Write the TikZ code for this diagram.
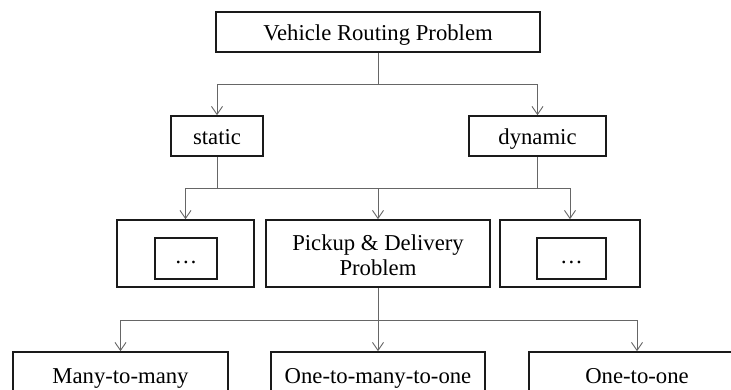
\documentclass[tikz,border=0pt]{standalone}
\usepackage{fontspec}
\setmainfont{Liberation Serif}
\usetikzlibrary{arrows.meta}
\definecolor{linkgray}{HTML}{666666}
\definecolor{boxline}{HTML}{1A1A1A}
\begin{document}
\begin{tikzpicture}[x=1pt,y=-1pt,
  box/.style={draw=boxline, line width=1.6pt, inner sep=0pt, align=center,
    font=\fontsize{22.7}{25}\selectfont},
  oneline/.style={box, text height=18pt, text depth=2pt},
  link/.style={draw=linkgray, line width=1pt},
  tip/.style={link, -{Straight Barb[length=8pt,width=11pt,line width=0.9pt]}}
]
\clip (0,0) rectangle (731,389);
\fill[white] (0,0) rectangle (731,389);

% top level
\node[oneline, minimum width=324, minimum height=40] (vrp) at (378,32) {Vehicle Routing Problem};

% static / dynamic
\node[oneline, minimum width=92, minimum height=40] (static) at (217,136) {static};
\node[oneline, minimum width=137, minimum height=40] (dynamic) at (537.5,136) {dynamic};

% middle row
\node[box, minimum width=137, minimum height=67] (left) at (185.5,253.5) {};
\node[box, minimum width=224, minimum height=67] (pdp) at (378,253.5)
  {\rule{0pt}{20pt}Pickup \& Delivery\\Problem};
\node[box, minimum width=140, minimum height=67] (right) at (570,253.5) {};
\node[box, minimum width=62, minimum height=41] (innerL) at (186,258.5) {\strut…};
\node[box, minimum width=69, minimum height=41] (innerR) at (571.5,258.5) {\strut…};

% bottom row
\node[oneline, minimum width=215, minimum height=46] (m2m) at (120.5,375) {Many-to-many};
\node[oneline, minimum width=214, minimum height=46] (o2m2o) at (378,375) {One-to-many-to-one};
\node[oneline, minimum width=216, minimum height=46] (o2o) at (637,375) {One-to-one};

% bus points
\coordinate (bus1) at (378,84);
\coordinate (bus2) at (378,188);
\coordinate (bus3) at (378,320);

% connectors
\draw[link] (vrp.south) -- (bus1);
\draw[tip] (bus1) -| (static.north);
\draw[tip] (bus1) -| (dynamic.north);

\draw[link] (static.south) -- (static.south |- bus2);
\draw[link] (dynamic.south) -- (dynamic.south |- bus2);
\draw[tip] (bus2) -| (left.north);
\draw[tip] (bus2) -- (pdp.north);
\draw[tip] (bus2) -| (right.north);

\draw[link] (pdp.south) -- (bus3);
\draw[tip] (bus3) -| (m2m.north);
\draw[tip] (bus3) -- (o2m2o.north);
\draw[tip] (bus3) -| (o2o.north);
\end{tikzpicture}
\end{document}
